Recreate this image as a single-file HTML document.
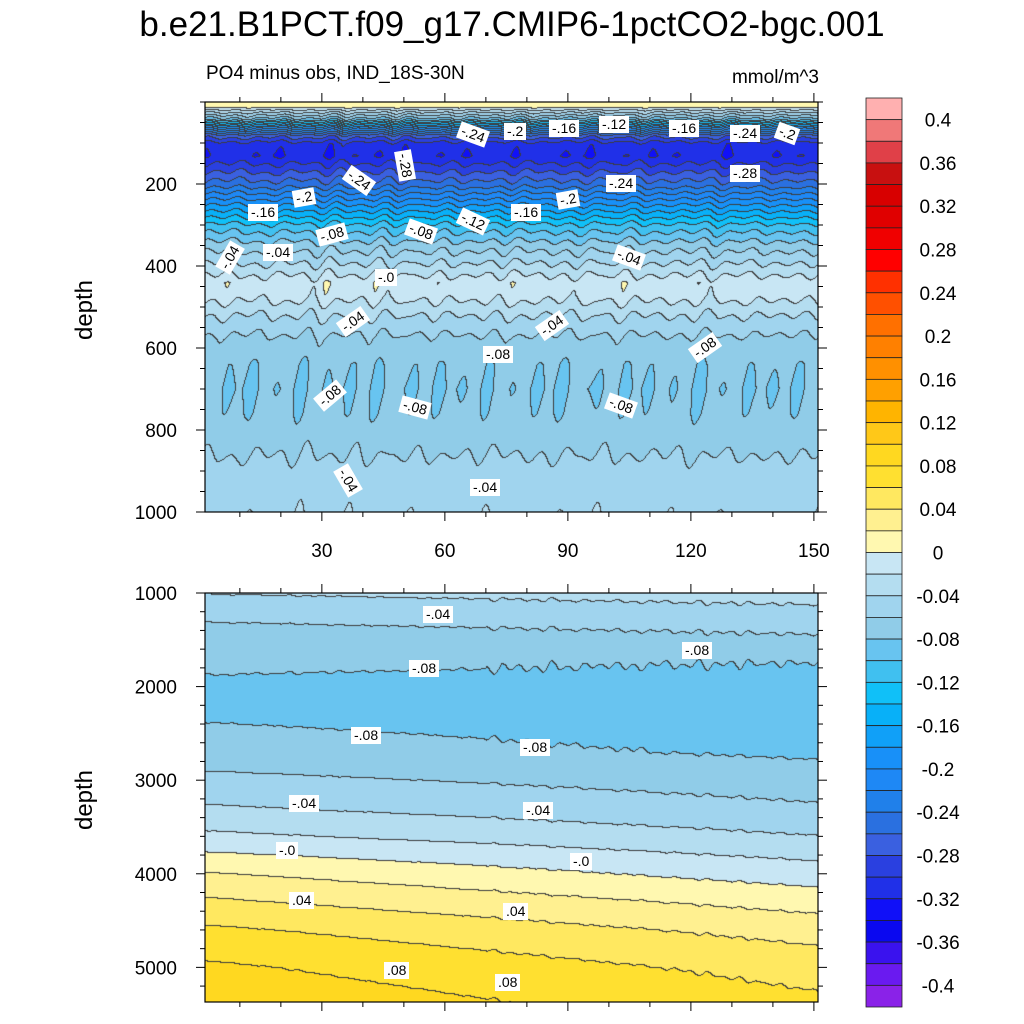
<!DOCTYPE html>
<html><head><meta charset="utf-8"><style>
body{margin:0;background:#fff;width:1024px;height:1024px;position:relative;overflow:hidden;font-family:"Liberation Sans",sans-serif}
.t{position:absolute;white-space:nowrap;color:#000}
canvas{position:absolute}
.lab{position:absolute;background:#fff;font-size:14px;padding:0 3px;line-height:17px;white-space:nowrap}
</style></head><body>
<div class="t" style="left:0;width:1024px;text-align:center;top:5px;font-size:35px">b.e21.B1PCT.f09_g17.CMIP6-1pctCO2-bgc.001</div>
<div class="t" style="left:206px;top:63px;font-size:19px">PO4 minus obs, IND_18S-30N</div>
<div class="t" style="right:205px;top:67px;font-size:19px">mmol/m^3</div>
<div class="t" style="left:55px;top:296px;font-size:24px;transform:rotate(-90deg)">depth</div>
<div class="t" style="left:55px;top:786px;font-size:24px;transform:rotate(-90deg)">depth</div>
<canvas id="c1" width="613" height="410" style="left:205px;top:102px"></canvas>
<canvas id="c2" width="613" height="409" style="left:205px;top:593px"></canvas>
<svg id="ov" width="1024" height="1024" style="position:absolute;left:0;top:0"></svg>
<div id="labs"></div>
<script>
const levels=[];for(let i=0;i<=40;i++)levels.push(-0.4+i*0.02);
const colors=["#8a22e8","#6a1af0","#3a12ee","#0a08f0","#1010f8","#2030e8","#2a40e0","#3a60e0","#2a70e0","#2080ea","#1e88f5","#1890f8","#10a0f8","#08b0f8","#10c0f8","#40c0f0","#68c4f0","#90cce8","#a0d4ee","#b4ddf0","#c8e6f4","#fff8b0","#fff090","#ffe860","#ffe030","#ffd820","#ffc818","#ffb400","#ffa000","#ff9000","#ff8000","#ff7000","#ff5000","#ff3000","#ff0000","#f00000","#e00000","#d80000","#c81010","#e04048","#f07878","#ffb0b0"];
const cbLabels=["0.4","0.36","0.32","0.28","0.24","0.2","0.16","0.12","0.08","0.04","0","-0.04","-0.08","-0.12","-0.16","-0.2","-0.24","-0.28","-0.32","-0.36","-0.4"];
const topDepths=[0,10,20,40,60,80,100,130,160,200,250,300,350,400,440,470,520,580,640,700,760,820,880,940,1000];
const topValues=[0.012,0.004,-0.03,-0.09,-0.19,-0.27,-0.31,-0.318,-0.29,-0.25,-0.18,-0.115,-0.07,-0.035,-0.008,-0.012,-0.04,-0.065,-0.077,-0.08,-0.077,-0.068,-0.057,-0.047,-0.042];
const topAmp=[0.004,0.004,0.01,0.02,0.02,0.015,0.012,0.01,0.012,0.012,0.012,0.012,0.012,0.012,0.012,0.012,0.01,0.008,0.008,0.008,0.008,0.007,0.006,0.005,0.004];
const botDepths=[1000,1200,1500,1800,2000,2100,2300,2700,3000,3300,3600,3800,4000,4300,4600,5000,5370];
const botValues=[-0.036,-0.05,-0.068,-0.08,-0.092,-0.091,-0.086,-0.077,-0.062,-0.047,-0.027,-0.01,0.006,0.028,0.048,0.068,0.08];
const botTrend=[0.004,0.004,0.004,-0.004,-0.004,-0.003,-0.004,-0.006,-0.008,-0.01,-0.012,-0.014,-0.016,-0.016,-0.016,-0.016,-0.016];
const botAmp=[0.002,0.002,0.002,0.004,0.004,0.002,0.001,0.001,0.001,0.001,0.001,0.001,0.001,0.001,0.001,0.001,0.001];
const wiggle=[0.3,-0.6,0.5,-0.2,0.8,-0.4,0.1,-0.7,0.6,-0.1,0.4,-0.9,1.0,-0.3,0.2,-0.5,0.9,-0.8,0.3,0.1,-0.4,0.7,-0.6,0.2,-0.2,0.5,-0.7,0.8,-0.1,0.4,-0.5,0.3,-0.8,0.6,0.0,-0.3,0.9,-0.6,0.2,-0.4,0.5,-0.2,0.7,-0.9,0.3,-0.1,0.6,-0.5,0.2,-0.3];
const xMin=1.5,xMax=151;
function interp(xs,ys,x){if(x<=xs[0])return ys[0];for(let i=1;i<xs.length;i++){if(x<=xs[i]){const f=(x-xs[i-1])/(xs[i]-xs[i-1]);return ys[i-1]+f*(ys[i]-ys[i-1]);}}return ys[ys.length-1];}
function wig(t){const n=wiggle.length;const i=Math.floor(t)%n,j=(i+1)%n,f=t-Math.floor(t);const s=f*f*(3-2*f);return wiggle[i]*(1-s)+wiggle[j]*s;}
function lvl(v){let k=0;while(k<levels.length&&v>=levels[k])k++;return k;}
function hex(c){return [parseInt(c.substr(1,2),16),parseInt(c.substr(3,2),16),parseInt(c.substr(5,2),16)];}
const rgb=colors.map(hex);
function render(id,d0,d1,field){const cv=document.getElementById(id),ctx=cv.getContext('2d');const W=cv.width,H=cv.height;const img=ctx.createImageData(W,H);const L=new Int16Array(W*H);
for(let y=0;y<H;y++){const d=d0+(d1-d0)*y/(H-1);for(let x=0;x<W;x++){const t=xMin+(xMax-xMin)*x/(W-1);L[y*W+x]=lvl(field(t,d));}}
for(let y=0;y<H;y++)for(let x=0;x<W;x++){const k=L[y*W+x];let c=rgb[k];const edge=(x>0&&L[y*W+x-1]!==k)||(y>0&&L[(y-1)*W+x]!==k);if(edge)c=[60,60,60];const p=(y*W+x)*4;img.data[p]=c[0];img.data[p+1]=c[1];img.data[p+2]=c[2];img.data[p+3]=255;}
ctx.putImageData(img,0,0);}
render('c1',0,1000,(t,d)=>interp(topDepths,topValues,d)+interp(topDepths,topAmp,d)*wig(t*0.33+d*0.004));
render('c2',1000,5370,(t,d)=>interp(botDepths,botValues,d)+interp(botDepths,botTrend,d)*(t-75)/75+interp(botDepths,botAmp,d)*wig(t*0.5)*(t>70?1:0.3));
const ov=document.getElementById('ov');const NS='http://www.w3.org/2000/svg';
function el(tag,a,txt){const e=document.createElementNS(NS,tag);for(const k in a)e.setAttribute(k,a[k]);if(txt!==undefined)e.textContent=txt;ov.appendChild(e);return e;}
const X0=205,X1=818;const xs=t=>X0+(t-xMin)/(xMax-xMin)*(X1-X0);
function panel(top,bot,d0,d1,yt,ymin,showX,pre){const ys=d=>top+(d-d0)/(d1-d0)*(bot-top);
let r=el('rect',{x:X0,y:top,width:X1-X0,height:bot-top,fill:'none',stroke:'#000','stroke-width':1.2});
for(let d=Math.ceil(d0/ymin)*ymin;d<=d1;d+=ymin){const y=ys(d);const maj=yt.includes(d);const len=maj?9:5;el('line',{x1:X0,x2:X0-len,y1:y,y2:y,stroke:'#000'});el('line',{x1:X1,x2:X1+len,y1:y,y2:y,stroke:'#000'});
if(maj){const tx=el('text',{x:X0-28,y:y+7,'text-anchor':'end','font-size':19,'font-family':'Liberation Sans'},String(d));}}
for(let t=10;t<=150;t+=10){const x=xs(t);const maj=t%30===0;const len=maj?9:5;el('line',{x1:x,x2:x,y1:top,y2:top-len,stroke:'#000'});el('line',{x1:x,x2:x,y1:bot,y2:bot+len,stroke:'#000'});
if(maj&&showX){const tx=el('text',{x:x,y:bot+45,'text-anchor':'middle','font-size':19,'font-family':'Liberation Sans'},String(t));}}}
panel(102,512,0,1000,[200,400,600,800,1000],50,true,'top');
panel(593,1002,1000,5370,[1000,2000,3000,4000,5000],200,false,'bottom');
const cbTop=98,cbH=909/42;
for(let i=0;i<42;i++){const r=el('rect',{x:866,y:cbTop+i*cbH,width:36,height:cbH,fill:colors[41-i],stroke:'#222','stroke-width':0.8});}
cbLabels.forEach((s,i)=>{const tx=el('text',{x:938,y:cbTop+cbH*(i*2+1)+7,'text-anchor':'middle','font-size':19,'font-family':'Liberation Sans'},s);});
const labs=[["-.24",472,135,20],["-.2",518,132,0],["-.16",563,129,0],["-.12",613,125,0],["-.16",683,129,0],["-.24",744,134,0],["-.2",790,134,20],["-.28",404,166,80],["-.24",358,181,35],["-.2",307,198,-10],["-.16",262,213,0],["-.08",331,235,-15],["-.08",420,232,20],["-.12",472,222,25],["-.16",525,213,0],["-.2",571,200,-10],["-.24",620,184,0],["-.28",744,174,0],["-.04",229,258,-60],["-.04",277,253,0],["-.04",628,258,20],["-.0",389,278,0],["-.04",352,322,-35],["-.04",551,326,-35],["-.08",497,355,0],["-.08",704,348,-35],["-.08",329,396,-40],["-.08",414,408,15],["-.08",620,406,20],["-.04",347,481,60],["-.04",484,488,0],
["-.04",437,615,0],["-.08",696,651,0],["-.08",423,669,0],["-.08",365,736,0],["-.08",534,748,0],["-.04",303,804,0],["-.04",537,811,0],["-.0",290,851,0],["-.0",584,862,0],[".04",303,901,0],[".04",517,912,0],[".08",398,971,0],[".08",509,983,0]];
const lc=document.getElementById('labs');
labs.forEach(l=>{const d=document.createElement('div');d.className='lab';d.textContent=l[0];d.style.left=(l[1]-14)+'px';d.style.top=(l[2]-9)+'px';d.style.transform='rotate('+l[3]+'deg)';


lc.appendChild(d);});
</script>
</body></html>
